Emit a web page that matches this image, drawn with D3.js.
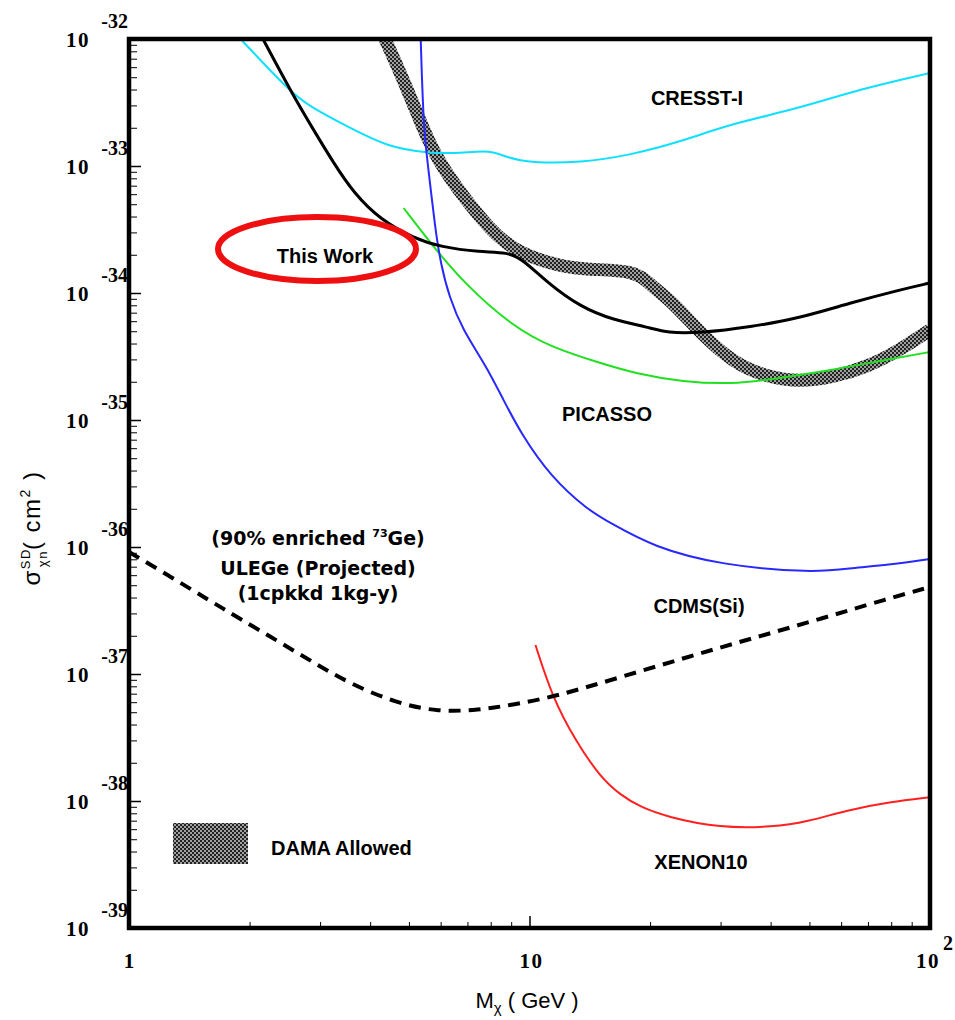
<!DOCTYPE html>
<html>
<head>
<meta charset="utf-8">
<script src="https://cdn.jsdelivr.net/npm/d3@7"></script>
<style>
body { margin: 0; background: #fff; }
</style>
</head>
<body>
<div id="chart"></div>
<script>
// WIMP mass in GeV, spin-dependent cross-section in cm^2
const cresstMass = [1.90, 2.54, 2.84, 3.52, 4.43, 5.57, 6.73, 8.0, 8.81, 10.05, 13.4, 17.9, 23.8, 31.7, 47.4, 66.9, 100];
const cresstSigma = [1.0e-32, 3.76e-33, 2.92e-33, 2.03e-33, 1.41e-33, 1.26e-33, 1.26e-33, 1.34e-33, 1.16e-33, 1.06e-33, 1.06e-33, 1.22e-33, 1.55e-33, 2.14e-33, 2.86e-33, 4.04e-33, 5.40e-33];

const thisWorkMass = [2.16, 2.54, 2.89, 3.24, 3.64, 4.25, 5.14, 6.0, 7.55, 8.81, 9.66, 11.1, 13.4, 16.2, 19.7, 22.1, 26.7, 35.6, 47.4, 63.1, 84.2, 100];
const thisWorkSigma = [1.0e-32, 3.83e-33, 1.92e-33, 1.06e-33, 6.12e-34, 3.76e-34, 2.71e-34, 2.30e-34, 2.10e-34, 2.10e-34, 1.82e-34, 1.20e-34, 7.76e-35, 6.12e-35, 5.40e-35, 4.84e-35, 4.84e-35, 5.40e-35, 6.35e-35, 8.34e-35, 1.06e-34, 1.20e-34];

const blueMass = [5.35, 5.44, 5.57, 5.82, 6.0, 6.30, 6.81, 7.77, 8.61, 9.50, 11.3, 14.0, 15.9, 20.4, 29.9, 51.1, 64.3, 78.1, 100];
const blueSigma = [1.0e-32, 1.92e-33, 1.06e-33, 3.13e-34, 1.72e-34, 9.31e-35, 5.12e-35, 2.71e-35, 1.44e-35, 7.91e-36, 3.56e-36, 1.95e-36, 1.55e-36, 1.0e-36, 7.21e-37, 6.24e-37, 6.84e-37, 7.21e-37, 8.05e-37];

const greenMass = [4.85, 5.66, 6.84, 9.12, 11.3, 15.0, 18.2, 24.2, 32.3, 39.2, 57.3, 76.4, 100];
const greenSigma = [4.67e-34, 2.48e-34, 1.20e-34, 5.40e-35, 3.76e-35, 2.81e-35, 2.34e-35, 1.99e-35, 1.92e-35, 2.07e-35, 2.48e-35, 2.96e-35, 3.43e-35];

const xenonMass = [10.35, 11.4, 13.0, 15.0, 16.9, 18.9, 22.1, 29.9, 40.6, 49.3, 62.1, 79.4, 100];
const xenonSigma = [1.69e-37, 6.59e-38, 3.02e-38, 1.55e-38, 1.11e-38, 8.97e-39, 7.48e-39, 6.12e-39, 6.24e-39, 6.84e-39, 8.49e-39, 9.82e-39, 1.07e-38];

const ulegeMass = [1.0, 1.26, 1.58, 1.88, 2.37, 2.93, 3.54, 4.63, 5.93, 7.46, 9.02, 11.5, 16.9, 24.8, 36.2, 53.2, 78.1, 100];
const ulegeSigma = [9.14e-37, 5.92e-37, 3.83e-37, 2.76e-37, 1.79e-37, 1.20e-37, 8.49e-38, 5.91e-38, 5.02e-38, 5.21e-38, 5.70e-38, 6.59e-38, 9.46e-38, 1.36e-37, 1.92e-37, 2.71e-37, 3.90e-37, 4.84e-37];

const damaMass = [4.32, 4.85, 5.44, 5.90, 6.84, 8.0, 9.12, 11.1, 13.4, 18.4, 20.0, 22.9, 26.7, 32.3, 39.2, 47.4, 57.3, 69.6, 84.2, 100];
const damaSigma = [1.06e-32, 4.75e-33, 1.92e-33, 1.11e-33, 5.70e-34, 3.13e-34, 2.18e-34, 1.72e-34, 1.52e-34, 1.52e-34, 1.16e-34, 8.34e-35, 4.84e-35, 2.81e-35, 2.18e-35, 1.99e-35, 2.18e-35, 2.61e-35, 3.56e-35, 5.12e-35];

// tick values
const xMajor = [1, 10, 100];
const yExponents = [-39, -38, -37, -36, -35, -34, -33, -32];

const W = 955, H = 1020;
const frame = { left: 129, right: 930, top: 39, bottom: 928 };

const svg = d3.select("#chart")
    .append("svg")
    .attr("width", W)
    .attr("height", H);

const x = d3.scaleLog().domain([1, 100]).range([frame.left, frame.right]);
const y = d3.scaleLog().domain([1e-39, 1e-32]).range([frame.bottom, frame.top]);

// patterns and clip
const defs = svg.append("defs");
const pat = defs.append("pattern")
    .attr("id", "dama")
    .attr("patternUnits", "userSpaceOnUse")
    .attr("width", 4)
    .attr("height", 4);
pat.append("rect").attr("width", 4).attr("height", 4).attr("fill", "#a0a0a0");
pat.append("rect").attr("width", 2).attr("height", 2).attr("fill", "#222");
pat.append("rect").attr("x", 2).attr("y", 2).attr("width", 2).attr("height", 2).attr("fill", "#222");

defs.append("clipPath").attr("id", "plotclip")
    .append("rect")
    .attr("x", frame.left).attr("y", frame.top)
    .attr("width", frame.right - frame.left).attr("height", frame.bottom - frame.top);

const plot = svg.append("g").attr("clip-path", "url(#plotclip)");

const line = d3.line()
    .x(d => x(d[0]))
    .y(d => y(d[1]))
    .curve(d3.curveBasis);

const zip = (a, b) => a.map((v, i) => [v, b[i]]);

// DAMA allowed band
plot.append("path")
    .attr("d", line(zip(damaMass, damaSigma)))
    .attr("fill", "none")
    .attr("stroke", "url(#dama)")
    .attr("stroke-width", 13)
    .attr("stroke-linejoin", "round");

const curves = [
    { m: cresstMass, s: cresstSigma, color: "#10e0ff", w: 2 },
    { m: greenMass, s: greenSigma, color: "#20e020", w: 2 },
    { m: blueMass, s: blueSigma, color: "#2828ff", w: 2 },
    { m: xenonMass, s: xenonSigma, color: "#ff2020", w: 2 },
    { m: thisWorkMass, s: thisWorkSigma, color: "#000", w: 3 }
];

curves.forEach(c => {
    plot.append("path")
        .attr("d", line(zip(c.m, c.s)))
        .attr("fill", "none")
        .attr("stroke", c.color)
        .attr("stroke-width", c.w);
});

// projected sensitivity (dashed)
plot.append("path")
    .attr("d", line(zip(ulegeMass, ulegeSigma)))
    .attr("fill", "none")
    .attr("stroke", "#000")
    .attr("stroke-width", 4)
    .attr("stroke-dasharray", "12,8");

// minor / major ticks, drawn inside the frame
const yMinor = [];
yExponents.slice(0, -1).forEach(e => {
    for (let k = 2; k <= 9; k++) yMinor.push(k * Math.pow(10, e));
});
const xMinor = [];
[1, 10].forEach(b => {
    for (let k = 2; k <= 9; k++) xMinor.push(k * b);
});

function tickAxis(axis, transform, width) {
    const g = svg.append("g")
        .attr("transform", transform)
        .call(axis);
    g.select(".domain").remove();
    g.selectAll("line").attr("stroke", "#000").attr("stroke-width", width);
    g.selectAll("text").remove();
}

tickAxis(d3.axisLeft(y).tickValues(yMinor).tickSize(-8), `translate(${frame.left},0)`, 1);
tickAxis(d3.axisLeft(y).tickValues(yExponents.map(e => Math.pow(10, e))).tickSize(-12), `translate(${frame.left},0)`, 1.5);
tickAxis(d3.axisBottom(x).tickValues(xMinor).tickSize(-6), `translate(0,${frame.bottom})`, 1);
tickAxis(d3.axisBottom(x).tickValues(xMajor).tickSize(-12), `translate(0,${frame.bottom})`, 1.5);

// frame
svg.append("rect")
    .attr("x", frame.left).attr("y", frame.top)
    .attr("width", frame.right - frame.left).attr("height", frame.bottom - frame.top)
    .attr("fill", "none")
    .attr("stroke", "#000")
    .attr("stroke-width", 4.5);

// tick labels
const serif = "'Liberation Serif', 'Times New Roman', serif";
yExponents.forEach(e => {
    const py = y(Math.pow(10, e));
    svg.append("text")
        .attr("x", 90).attr("y", py + 8)
        .attr("text-anchor", "end")
        .style("font-family", serif).style("font-weight", "bold")
        .style("font-size", "21px").style("letter-spacing", "1.5px")
        .text("10");
    svg.append("text")
        .attr("x", 128).attr("y", py - 11)
        .attr("text-anchor", "end")
        .style("font-family", serif).style("font-weight", "bold")
        .style("font-size", "20px")
        .text(e);
});

svg.append("text")
    .attr("x", x(1)).attr("y", 968)
    .attr("text-anchor", "middle")
    .style("font-family", serif).style("font-weight", "bold").style("font-size", "21px")
    .text("1");
svg.append("text")
    .attr("x", x(10) + 2).attr("y", 968)
    .attr("text-anchor", "middle")
    .style("font-family", serif).style("font-weight", "bold").style("font-size", "21px")
    .style("letter-spacing", "1.5px")
    .text("10");
svg.append("text")
    .attr("x", x(100) - 2).attr("y", 968)
    .attr("text-anchor", "middle")
    .style("font-family", serif).style("font-weight", "bold").style("font-size", "21px")
    .style("letter-spacing", "1.5px")
    .text("10");
svg.append("text")
    .attr("x", x(100) + 13).attr("y", 950)
    .attr("text-anchor", "start")
    .style("font-family", serif).style("font-weight", "bold").style("font-size", "20px")
    .text("2");

// axis titles
const sans = "'Liberation Sans', Arial, sans-serif";
const xt = svg.append("text")
    .attr("x", 527).attr("y", 1008)
    .attr("text-anchor", "middle")
    .style("font-family", sans).style("font-size", "22px");
xt.append("tspan").text("M");
xt.append("tspan").attr("dy", 5).style("font-size", "15px").text("χ");
xt.append("tspan").attr("dy", -5).text(" ( GeV )");

const yt = svg.append("text")
    .attr("transform", "translate(40,528) rotate(-90)")
    .attr("text-anchor", "middle")
    .style("font-family", sans).style("font-size", "24px").style("letter-spacing", "1.5px");
yt.append("tspan").text("σ");
yt.append("tspan").attr("dy", -10).style("font-size", "13px").text("SD");
yt.append("tspan").attr("dx", -19).attr("dy", 17).style("font-size", "13px").text("χn");
yt.append("tspan").attr("dy", -7).text("( cm");
yt.append("tspan").attr("dy", -10).style("font-size", "14px").text("2");
yt.append("tspan").attr("dy", 10).text(" )");

// annotations
const label = (tx, ty, txt, anchor) => svg.append("text")
    .attr("x", tx).attr("y", ty)
    .attr("text-anchor", anchor || "middle")
    .style("font-family", sans).style("font-weight", "bold").style("font-size", "20px")
    .text(txt);

label(697, 105, "CRESST-I");
label(325, 263, "This Work");
label(607, 421, "PICASSO");
label(699, 613, "CDMS(Si)");
label(701, 869, "XENON10");
label(271, 855, "DAMA Allowed", "start");

svg.append("ellipse")
    .attr("cx", 317).attr("cy", 249)
    .attr("rx", 99).attr("ry", 32)
    .attr("fill", "none")
    .attr("stroke", "#ee1010")
    .attr("stroke-width", 6);

svg.append("rect")
    .attr("x", 173).attr("y", 823)
    .attr("width", 75).attr("height", 41)
    .attr("fill", "url(#dama)");

const proj = "'DejaVu Sans', sans-serif";
const l1 = svg.append("text")
    .attr("x", 318).attr("y", 545)
    .attr("text-anchor", "middle")
    .style("font-family", proj).style("font-weight", "bold").style("font-size", "19px");
l1.append("tspan").text("(90% enriched ");
l1.append("tspan").attr("dy", -8).style("font-size", "11px").text("73");
l1.append("tspan").attr("dy", 8).text("Ge)");

svg.append("text")
    .attr("x", 318).attr("y", 575)
    .attr("text-anchor", "middle")
    .style("font-family", proj).style("font-weight", "bold").style("font-size", "19px")
    .text("ULEGe (Projected)");
svg.append("text")
    .attr("x", 318).attr("y", 600)
    .attr("text-anchor", "middle")
    .style("font-family", proj).style("font-weight", "bold").style("font-size", "19px")
    .text("(1cpkkd 1kg-y)");
</script>
</body>
</html>
